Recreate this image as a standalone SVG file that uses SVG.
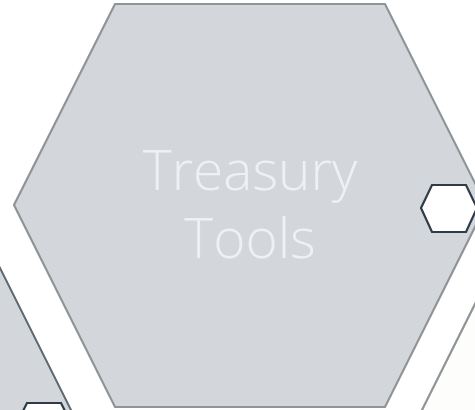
<svg xmlns="http://www.w3.org/2000/svg" width="475" height="410" viewBox="0 0 475 410">
<style>
.big{fill:#d3d7dc;stroke:#8f9498;stroke-width:2.2}
.dark{fill:#d3d7dc;stroke:#5e6870;stroke-width:2}
.pale{fill:#fdfdfc;stroke:#8f9498;stroke-width:2.2}
.small{fill:#ffffff;stroke:#2f3b45;stroke-width:2.2}
.lbl{font-family:"Open Sans","Liberation Sans",sans-serif;font-weight:300;font-size:55px;fill:#eef0f2;text-anchor:middle}
</style>
<rect width="475" height="410" fill="#ffffff"/>
<g id="hex-left">
<polygon class="dark" points="-80,100 -5,258 72,412 -80,412"/>
<polygon class="small" points="27,403 61,403 72,425 61,447 27,447 16,425"/>
</g>
<g id="hex-bottom-right">
<polygon class="pale" points="478,298 421,412 480,412"/>
</g>
<g id="hex-main">
<polygon class="big" points="115,4 385,4 486,205 385,407 115,407 14,205"/>
<text class="lbl" x="250" y="190">Treasury</text>
<text class="lbl" x="250" y="258">Tools</text>
</g>
<g id="hex-right">
<polygon class="small" points="432,185 466,185 477,208 466,232 432,232 421,208"/>
</g>
<g id="connectors"></g>
</svg>
